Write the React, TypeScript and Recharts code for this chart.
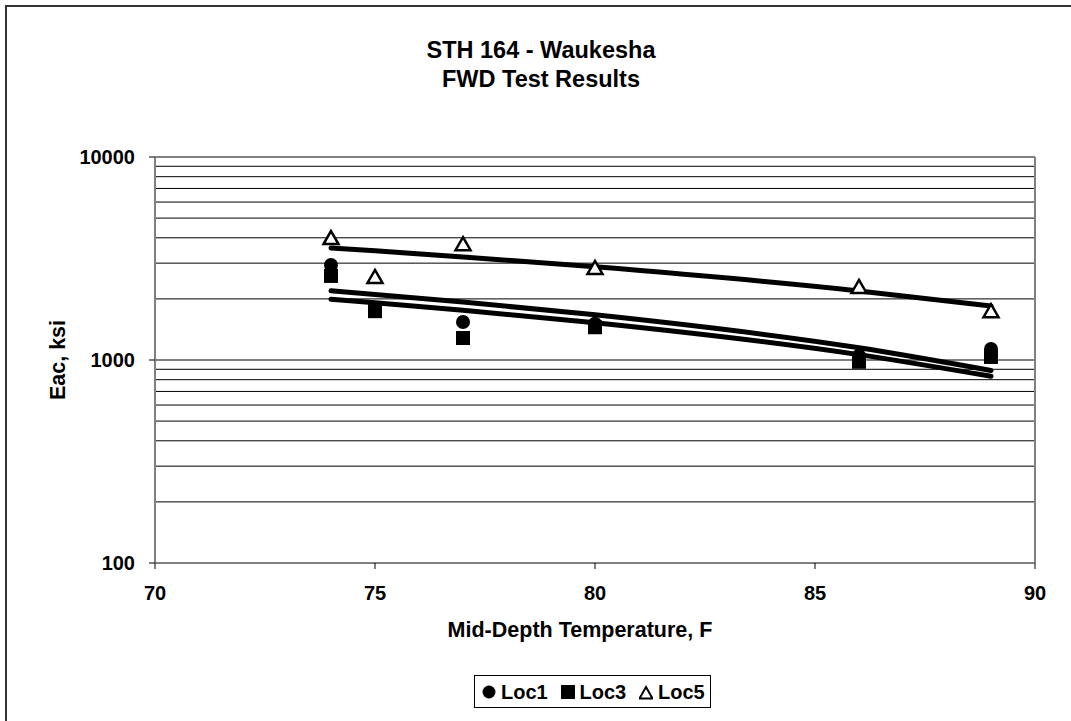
import { ComposedChart, Scatter, Line, XAxis, YAxis, ReferenceLine, Legend } from "recharts";

// mid-depth temperature (F) and back-calculated Eac (ksi) per location
const temps = [74, 75, 77, 80, 86, 89];
const loc1 = [2940, 1760, 1540, 1510, 1050, 1132];
const loc3 = [2595, 1740, 1283, 1450, 980, 1035];
const loc5 = [3990, 2566, 3720, 2840, 2290, 1740];

const xTicks = [70, 75, 80, 85, 90];
const yTicks = [100, 1000, 10000];
const minorGrid = [200, 300, 400, 500, 600, 700, 800, 900, 1000, 2000, 3000, 4000, 5000, 6000, 7000, 8000, 9000];

const FONT = '"Liberation Sans", Arial, sans-serif';

// least-squares linear trendline (like Excel's), evaluated at the test temperatures
function trend(ys: number[]) {
  const n = temps.length;
  const mx = temps.reduce((a, b) => a + b, 0) / n;
  const my = ys.reduce((a, b) => a + b, 0) / n;
  let sxy = 0;
  let sxx = 0;
  temps.forEach((x, i) => {
    sxy += (x - mx) * (ys[i] - my);
    sxx += (x - mx) * (x - mx);
  });
  const slope = sxy / sxx;
  return temps.map((x) => my + slope * (x - mx));
}

const fit1 = trend(loc1);
const fit3 = trend(loc3);
const fit5 = trend(loc5);

const data = temps.map((t, i) => ({
  t,
  loc1: loc1[i],
  loc3: loc3[i],
  loc5: loc5[i],
  fit1: fit1[i],
  fit3: fit3[i],
  fit5: fit5[i],
}));

const Circle = (p: any) => <circle cx={p.cx} cy={p.cy} r={7} fill="#000" />;
const Square = (p: any) => <rect x={p.cx - 7} y={p.cy - 7} width={14} height={14} fill="#000" />;
const Triangle = (p: any) => (
  <polygon
    points={`${p.cx},${p.cy - 7} ${p.cx + 7.5},${p.cy + 6} ${p.cx - 7.5},${p.cy + 6}`}
    fill="#fff"
    stroke="#000"
    strokeWidth={2.5}
    strokeLinejoin="miter"
  />
);

const legendItems = [
  { name: "Loc1", icon: <circle cx={7} cy={8} r={6.5} fill="#000" /> },
  { name: "Loc3", icon: <rect x={0} y={1} width={14} height={14} fill="#000" /> },
  { name: "Loc5", icon: <polygon points="7,3 13.5,14.5 0.5,14.5" fill="#fff" stroke="#000" strokeWidth={2} /> },
];

function LegendBox() {
  return (
    <div
      style={{
        border: "1px solid #000",
        height: 31,
        width: 235,
        display: "flex",
        alignItems: "center",
        fontFamily: FONT,
        fontWeight: "bold",
        fontSize: 20,
        background: "#fff",
        position: "relative",
      }}
    >
      {legendItems.map((it, i) => (
        <div
          key={it.name}
          style={{ position: "absolute", left: 7 + i * 78.5, top: 7, display: "flex", alignItems: "center", height: 18 }}
        >
          <svg width={14} height={16}>{it.icon}</svg>
          <span style={{ marginLeft: 5 }}>{it.name}</span>
        </div>
      ))}
    </div>
  );
}

const tickStyle = { fontFamily: FONT, fontWeight: "bold", fontSize: 20, fill: "#000" };

export default function App() {
  return (
    <div style={{ position: "absolute", left: 0, top: 0, width: 1071, height: 721, overflow: "hidden", background: "#fff" }}>
      <div style={{ position: "absolute", left: 5, top: 5, width: 1100, height: 760, border: "2px solid #333" }} />
      <div
        style={{
          position: "absolute",
          left: 341,
          width: 400,
          top: 36,
          textAlign: "center",
          fontFamily: FONT,
          fontWeight: "bold",
          fontSize: 23.5,
          lineHeight: "29px",
        }}
      >
        STH 164 - Waukesha
        <br />
        FWD Test Results
      </div>
      <div
        style={{
          position: "absolute",
          left: 380,
          width: 400,
          top: 618,
          textAlign: "center",
          fontFamily: FONT,
          fontWeight: "bold",
          fontSize: 21.5,
        }}
      >
        Mid-Depth Temperature, F
      </div>
      <div
        style={{
          position: "absolute",
          left: 58,
          top: 360,
          transform: "translate(-50%, -50%) rotate(-90deg)",
          whiteSpace: "nowrap",
          fontFamily: FONT,
          fontWeight: "bold",
          fontSize: 21.5,
        }}
      >
        Eac, ksi
      </div>
      <div style={{ position: "absolute", left: 0, top: 0 }}>
        <ComposedChart width={1071} height={721} data={data} margin={{ top: 157, right: 36, bottom: 85, left: 95 }}>
          <XAxis
            dataKey="t"
            type="number"
            domain={[70, 90]}
            ticks={xTicks}
            interval={0}
            height={40}
            tick={tickStyle}
            tickSize={6}
            tickMargin={17}
            axisLine={{ stroke: "#808080", strokeWidth: 2 }}
            tickLine={{ stroke: "#000" }}
          />
          <YAxis
            type="number"
            scale="log"
            domain={[100, 10000]}
            ticks={yTicks}
            interval={0}
            width={60}
            tick={tickStyle}
            tickSize={6}
            tickMargin={14}
            allowDataOverflow
            axisLine={{ stroke: "#808080", strokeWidth: 2 }}
            tickLine={{ stroke: "#000" }}
          />
          {minorGrid.map((v) => (
            <ReferenceLine key={v} y={v} stroke="#000" strokeWidth={1} />
          ))}
          <ReferenceLine y={10000} stroke="#808080" strokeWidth={2} />
          <ReferenceLine x={90} stroke="#808080" strokeWidth={2} />
          <Scatter dataKey="loc1" shape={Circle} isAnimationActive={false} legendType="circle" />
          <Scatter dataKey="loc3" shape={Square} isAnimationActive={false} legendType="square" />
          <Scatter dataKey="loc5" shape={Triangle} isAnimationActive={false} legendType="triangle" />
          <Line dataKey="fit1" type="monotone" stroke="#000" strokeWidth={5} dot={false} isAnimationActive={false} strokeLinecap="round" />
          <Line dataKey="fit3" type="monotone" stroke="#000" strokeWidth={5} dot={false} isAnimationActive={false} strokeLinecap="round" />
          <Line dataKey="fit5" type="monotone" stroke="#000" strokeWidth={5} dot={false} isAnimationActive={false} strokeLinecap="round" />
          <Legend
            content={<LegendBox />}
            wrapperStyle={{ position: "absolute", left: 474, top: 675, width: "auto", bottom: "auto" }}
          />
        </ComposedChart>
      </div>
    </div>
  );
}
